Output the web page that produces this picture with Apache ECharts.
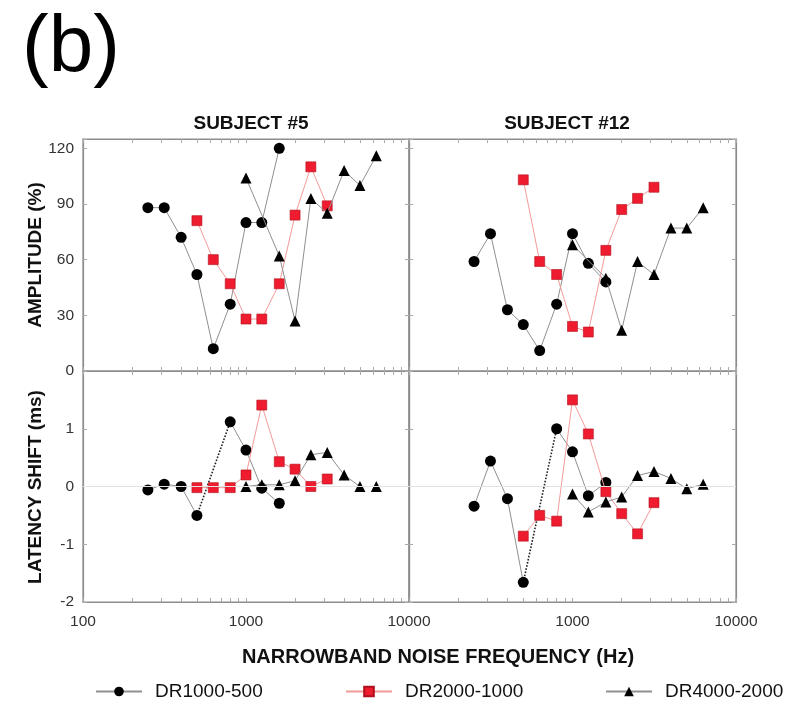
<!DOCTYPE html>
<html><head><meta charset="utf-8">
<script src="https://cdn.jsdelivr.net/npm/echarts@6/dist/echarts.min.js"></script>
<style>html,body{margin:0;padding:0;background:#fff}#c{width:802px;height:706px}</style>
</head><body><div id="c"></div>
<script>
const seriesNames = ['DR1000-500','DR2000-1000','DR4000-2000'];
const subjectTitles = ['SUBJECT #5','SUBJECT #12'];
const freqDR1000 = [250,315,400,500,630,800,1000,1250,1600];
const freqDR2000 = [500,630,800,1000,1250,1600,2000,2500,3150];
const freqDR4000amp = [1000,1600,2000,2500,3150,4000,5000,6300];
const freqDR4000lat = [1000,1250,1600,2000,2500,3150,4000,5000,6300];

const s5AmpDR1000 = [88,88,72,52,12,36,80,80,120];
const s5AmpDR2000 = [81,60,47,28,28,47,84,110,89];
const s5AmpDR4000 = [104,62,27,93,85,108,100,116];
const s12AmpDR1000 = [59,74,33,25,11,36,74,58,48];
const s12AmpDR2000 = [103,59,52,24,21,65,87,93,99];
const s12AmpDR4000 = [68,50,22,59,52,77,77,88];
const s5LatDR1000 = [-0.06,0.04,0,-0.5,null,1.12,0.63,-0.03,-0.29];
const s5LatDR2000 = [-0.02,-0.02,-0.02,0.2,1.41,0.43,0.3,0,0.13];
const s5LatDR4000 = [0,0.03,0.03,0.1,0.55,0.59,0.2,0,0];
const s12LatDR1000 = [-0.34,0.44,-0.21,-1.66,null,1.0,0.6,-0.16,0.07];
const s12LatDR2000 = [-0.86,-0.5,-0.6,1.5,0.91,-0.09,-0.47,-0.82,-0.28];
const s12LatDR4000 = [-0.13,-0.44,-0.27,-0.18,0.19,0.26,0.14,-0.04,0.04];

const xTickLabels = [100,1000,10000];
const xMinorTicks = [100,200,300,400,500,600,700,800,900,1000,2000,3000,4000,5000,6000,7000,8000,9000,10000];
const ampTicks = [0,30,60,90,120];
const latTicks = [-2,-1,0,1];

const FONT = 'Liberation Sans, Arial, sans-serif';
const AX = '#8c8c8c';

function pts(freqs, vals){ return freqs.map((f,i)=>[f, vals[i]==null ? '-' : vals[i]]); }
function gapLink(freqs, vals){
  const out=[];
  vals.forEach((v,i)=>{ if(v==null && i>0 && i<vals.length-1){ out.push([freqs[i-1],vals[i-1]]); out.push([freqs[i+1],vals[i+1]]); } });
  return out;
}

const grids = [
  {left:83, top:139, width:326, height:232},
  {left:409, top:139, width:327, height:232},
  {left:83, top:371, width:326, height:231},
  {left:409, top:371, width:327, height:231}
];

const xAxis = [];
for(let i=0;i<4;i++){
  xAxis.push({type:'log', logBase:10, min:100, max:10000, gridIndex:i, position:'bottom',
    axisLine:{show:true, onZero:false, lineStyle:{color:AX, width:1.2}},
    axisTick:{show:true, inside:true, length:4, lineStyle:{color:'#aaa'}, customValues:xMinorTicks},
    splitLine:{show:false},
    axisLabel:{show:i>=2, margin:12, fontSize:15.5, color:'#333', fontFamily:FONT,
      formatter:v=>{const r=Math.round(v); if(i===3 && r===100) return ''; return xTickLabels.includes(r)? String(r):'';}}
  });
}
for(let i=0;i<4;i++){
  xAxis.push({type:'log', logBase:10, min:100, max:10000, gridIndex:i, position:'top',
    axisLine:{show:true, onZero:false, lineStyle:{color:AX, width:1.2}},
    axisTick:{show:true, inside:true, length:4, lineStyle:{color:'#aaa'}, customValues:xMinorTicks},
    splitLine:{show:false}, axisLabel:{show:false}});
}
const yAxis = [];
for(let i=0;i<4;i++){
  const amp = i<2;
  const leftSide = (i%2===0);
  const base = amp ? {min:0,max:125,interval:30} : {min:-2,max:2,interval:1};
  yAxis.push(Object.assign({type:'value', gridIndex:i, position: leftSide?'left':'right',
    axisLine:{show:true, onZero:false, lineStyle:{color:AX, width:1.2}},
    axisTick:{show:true, inside:true, length:4, lineStyle:{color:'#aaa'}},
    splitLine:{show:false},
    axisLabel:{show:leftSide, margin:9, fontSize:15.5, color:'#333', fontFamily:FONT,
      formatter:v=>{ const list = amp?ampTicks:latTicks; return list.includes(v)? String(v):''; }}
  }, base));
}
for(let i=0;i<4;i++){
  const amp = i<2;
  const leftSide = (i%2===0);
  const base = amp ? {min:0,max:125,interval:30} : {min:-2,max:2,interval:1};
  yAxis.push(Object.assign({type:'value', gridIndex:i, position: leftSide?'right':'left',
    axisLine:{show:true, onZero:false, lineStyle:{color:AX, width:1.2}},
    axisTick:{show:true, inside:true, length:4, lineStyle:{color:'#aaa'}},
    splitLine:{show:false}, axisLabel:{show:false}}, base));
}

const styles = [
  {symbol:'circle', symbolSize:11, itemStyle:{color:'#000'}, lineStyle:{color:'#8f8f8f', width:1}},
  {symbol:'rect', symbolSize:10, itemStyle:{color:'#ee1c2e', borderColor:'#b0101e', borderWidth:0.6}, lineStyle:{color:'#f39a9a', width:1}},
  {symbol:'triangle', symbolSize:11, itemStyle:{color:'#000'}, lineStyle:{color:'#8f8f8f', width:1}}
];

const panels = [
  {g:0, sets:[[freqDR1000,s5AmpDR1000],[freqDR2000,s5AmpDR2000],[freqDR4000amp,s5AmpDR4000]]},
  {g:1, sets:[[freqDR1000,s12AmpDR1000],[freqDR2000,s12AmpDR2000],[freqDR4000amp,s12AmpDR4000]]},
  {g:2, sets:[[freqDR1000,s5LatDR1000],[freqDR2000,s5LatDR2000],[freqDR4000lat,s5LatDR4000]]},
  {g:3, sets:[[freqDR1000,s12LatDR1000],[freqDR2000,s12LatDR2000],[freqDR4000lat,s12LatDR4000]]}
];

const series = [];
panels.forEach(p=>{
  if(p.g>=2){
    series.push({type:'line', name:'gap', xAxisIndex:p.g, yAxisIndex:p.g, data:gapLink(p.sets[0][0],p.sets[0][1]),
      symbol:'none', lineStyle:{type:'dotted', color:'#222', width:1.6}, z:1, silent:true,
      markLine:{silent:true, symbol:'none', label:{show:false}, lineStyle:{color:'#e2e2e2', type:'solid', width:1}, data:[{yAxis:0}]}});
  }
  p.sets.forEach((s,k)=>{
    series.push(Object.assign({type:'line', name:seriesNames[k], xAxisIndex:p.g, yAxisIndex:p.g,
      data:pts(s[0],s[1]), connectNulls:false, z:2+k}, JSON.parse(JSON.stringify(styles[k]))));
  });
});

const legendLefts = [90, 340, 600];
const legend = seriesNames.map((n,k)=>({data:[n], left:legendLefts[k], top:677, itemWidth:46, itemHeight:12,
  textStyle:{fontSize:19, color:'#111', fontFamily:FONT, padding:[0,0,0,8]}, selectedMode:false}));

const option = {
  animation:false,
  backgroundColor:'#fff',
  grid:grids.map(g=>Object.assign({show:true, borderColor:AX, borderWidth:1.2, backgroundColor:'transparent', containLabel:false}, g)),
  xAxis, yAxis, series, legend,
  graphic:[
    {type:'text', left:22, top:9, style:{text:'(b)', font:'80px '+FONT, fill:'#000'}},
    {type:'text', x:251, y:124, style:{text:subjectTitles[0], font:'bold 19px '+FONT, fill:'#111', align:'center', verticalAlign:'middle'}},
    {type:'text', x:567, y:124, style:{text:subjectTitles[1], font:'bold 19px '+FONT, fill:'#111', align:'center', verticalAlign:'middle'}},
    {type:'text', x:36, y:255, rotation:Math.PI/2, style:{text:'AMPLITUDE (%)', font:'bold 19px '+FONT, fill:'#111', align:'center', verticalAlign:'middle'}},
    {type:'text', x:36, y:487, rotation:Math.PI/2, style:{text:'LATENCY SHIFT (ms)', font:'bold 19px '+FONT, fill:'#111', align:'center', verticalAlign:'middle'}},
    {type:'text', x:438, y:657, style:{text:'NARROWBAND NOISE FREQUENCY (Hz)', font:'bold 20px '+FONT, fill:'#111', align:'center', verticalAlign:'middle'}}
  ]
};
echarts.init(document.getElementById('c'), null, {renderer:'canvas'}).setOption(option);
</script></body></html>
